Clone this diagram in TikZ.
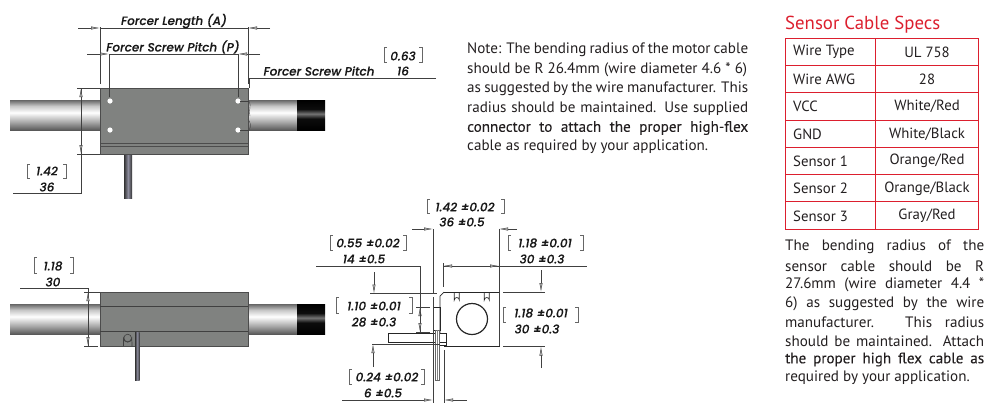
\documentclass[tikz,border=0pt]{standalone}
\usepackage{fontspec}
\usetikzlibrary{arrows.meta}
\setmainfont{PT Sans}
\newfontfamily\dimfont[ItalicFont=* Medium Italic,BoldFont=* SemiBold]{Poppins}
\definecolor{tablered}{HTML}{DC1F2E}
\definecolor{bodygray}{HTML}{808280}
\definecolor{txt}{HTML}{231F20}
\pgfdeclareverticalshading{rodshade}{100bp}{color(0bp)=(black!65);color(25bp)=(black!65);color(38bp)=(black!35);color(54bp)=(white);color(65bp)=(black!22);color(75bp)=(black!60);color(100bp)=(black!60)}
\pgfdeclareverticalshading{tipshade}{100bp}{color(0bp)=(black);color(25bp)=(black);color(44bp)=(black!95);color(52bp)=(black!55);color(60bp)=(black!95);color(75bp)=(black);color(100bp)=(black)}
\pgfdeclarehorizontalshading{cableshade}{100bp}{color(0bp)=(black!80);color(25bp)=(black!80);color(50bp)=(blue!15!black!45);color(75bp)=(black!80);color(100bp)=(black!80)}
\tikzset{
  x=1pt,y=-1pt,
  dimline/.style={draw=black!75,line width=0.55pt},
  dimarrow/.style={draw=black!75,line width=0.55pt,-{Latex[length=9pt,width=3.2pt,fill=black!25,line width=0.5pt]}},
  brack/.style={draw=black!60,line width=0.6pt},
  dimtext/.style={font=\dimfont\itshape\fontsize{12}{13}\selectfont\addfontfeature{FakeBold=0.2},text=black!90,inner sep=0pt},
  bodyedge/.style={draw=black!70,line width=0.7pt,fill=bodygray},
  partline/.style={draw=black!85,line width=0.7pt},
  note/.style={font=\fontsize{15.1}{17}\selectfont,text=txt,inner sep=0pt,anchor=west},
  notebold/.style={note,font=\fontsize{15.1}{17}\selectfont\addfontfeature{FakeBold=0.1}},
  para/.style={note},
  cell/.style={font=\fontsize{14.8}{16}\selectfont,text=txt,inner sep=0pt},
  tblline/.style={draw=tablered,line width=0.8pt},
}
\newcommand{\dimbracket}[4]{% x1,y1,x2,y2
  \draw[brack] (#1+3,#2)--(#1,#2)--(#1,#4)--(#1+3,#4);
  \draw[brack] (#3-3,#2)--(#3,#2)--(#3,#4)--(#3-3,#4);}
\newcommand{\rod}[2]{% top,bottom
  \shade[shading=rodshade] (10,#1) rectangle (100,#2);
  \shade[shading=rodshade] (248,#1) rectangle (297,#2);
  \shade[shading=tipshade] (297,#1) rectangle (325,#2);}
\begin{document}
\begin{tikzpicture}
\useasboundingbox (0,0) rectangle (1000,416);
% ---- top view
\rod{100}{130}
\shade[shading=cableshade] (124,154) rectangle (132,198);
\draw[bodyedge] (100,88) rectangle (248,154);
\draw[draw=black!70,line width=0.7pt] (100,143)--(248,143) (100,146)--(248,146);
\foreach \hx/\hy in {110/101,238/101,110/130,238/130}
  \fill[white] (\hx,\hy) circle (2.6);
% dims top view
\draw[dimline] (100,27)--(100,84) (248,27)--(248,84);
\draw[dimline] (100,28)--(248,28);
\draw[dimarrow] (78,28)--(100,28);
\draw[dimarrow] (270,28)--(248,28);
\draw[dimline] (109,54)--(109,97) (238,54)--(238,97) (109,54)--(238,54);
\draw[dimarrow] (87,54)--(109,54);
\draw[dimarrow] (260,54)--(238,54);
\draw[dimline] (436,78.5)--(249,78.5)--(249,88);
\draw[dimline] (240,101)--(249,101) (240,130)--(249,130);
\draw[draw=black!70,line width=0.4pt] (249,101) .. controls (252,106) and (248,110) .. (250,116) (248,119) .. controls (250,122) and (252,126) .. (249,130);
\draw[dimline] (77,88)--(100,88) (77,154)--(100,154) (81,88)--(81,193)--(13,193);
\draw[dimarrow] (81,108)--(81,88);
\draw[dimarrow] (81,134)--(81,154);
\node[dimtext] (lenA) at (174,21) {Forcer Length (A)};
\node[dimtext] (pitchP) at (173,47) {Forcer Screw Pitch (P)};
\node[dimtext] (pitchR) at (319,71) {Forcer Screw Pitch};
\node[dimtext] (n063) at (403,56) {0.63};
\node[dimtext] (n16) at (403,71) {16};
\dimbracket{384}{47}{422}{62}
\node[dimtext] (n142a) at (47,171) {1.42};
\node[dimtext] (n36) at (47,187) {36};
\dimbracket{27}{164}{66}{178}
% ---- side view
\rod{304}{334}
\draw[bodyedge] (100,292) rectangle (248,346);
\draw[draw=black!75,line width=0.7pt] (100,306)--(248,306) (100,331)--(248,331);
\draw[draw=black!75,line width=0.6pt] (123.5,346)--(123.5,338) arc (180:0:4.2) --(132,346);
\draw[draw=black!75,line width=0.6pt] (127.7,338) circle (3.8);
\shade[shading=cableshade] (135,332) rectangle (139.5,380);
\draw[dimline] (84,292)--(100,292) (84,346)--(98,346) (20,288.5)--(88,288.5)--(88,346);
\draw[dimarrow] (88,312)--(88,292);
\draw[dimarrow] (88,326)--(88,346);
\node[dimtext] (n118a) at (53,266) {1.18};
\node[dimtext] (n30) at (53,282) {30};
\dimbracket{34}{257}{73}{273}
% ---- end view part
\draw[partline] (444,292)--(499,292)--(499,346.5)--(444,346.5);
\draw[partline] (444,292)--(440,296)--(440,333);
\draw[partline] (433,307) rectangle (440,330);
\draw[partline] (388,333.5) rectangle (446,342);
\draw[partline] (437,333.5)--(446,333.5)--(446,345)--(439,345);
\draw[partline,line width=1.2pt] (472,319) circle (15.5);
\draw[partline] (454.3,292)--(454.3,300) arc (180:360:2.5) --(459.3,292);
\draw[partline] (484.3,292)--(484.3,300) arc (180:360:2.5) --(489.3,292);
\draw[draw=black!60,fill=white,line width=0.5pt] (435,330) rectangle (439,380);
\draw[draw=black!50,line width=0.4pt] (437,330)--(437,380);
% dims end view
\draw[dimline] (433,229)--(433,293) (433,297)--(433,403) (499,229)--(499,346);
\draw[dimarrow] (412,229)--(433,229);
\draw[dimarrow] (517,229)--(499,229);
\node[dimtext] (a1) at (465,207) {1.42 ±0.02};
\node[dimtext] (a2) at (462,222) {36 ±0.5};
\dimbracket{427}{199}{504}{213}
% 0.55
\draw[dimline] (316,266)--(420,266)--(420,332);
\draw[dimline] (416,307)--(430,307) (416,332)--(430,332);
\draw[dimarrow] (420,327)--(420,307);
\draw[dimarrow] (420,312)--(420,332);
\node[dimtext] (b1) at (368,243) {0.55 ±0.02};
\node[dimtext] (b2) at (364,259) {14 ±0.5};
\dimbracket{330}{235}{406}{250}
\node[dimtext] (c1) at (374,306) {1.10 ±0.01};
\node[dimtext] (c2) at (374,322) {28 ±0.3};
\dimbracket{336}{297}{412}{313}
% 0.55 companion arrow
\draw[dimline] (370,293.5)--(437,293.5) (372,344)--(440,344);
\draw[dimarrow] (374,272)--(374,293.5);
\draw[dimarrow] (373,367)--(373,344);
% 1.18 top
\draw[dimline] (443,266)--(587,266) (443,263)--(443,287);
\draw[dimarrow] (460,266)--(443,266);
\draw[dimarrow] (483,266)--(499,266);
\node[dimtext] (d1) at (545,243) {1.18 ±0.01};
\node[dimtext] (d2) at (542,259) {30 ±0.3};
\dimbracket{508}{235}{583}{250}
% 1.18 right
\draw[dimline] (503,292)--(545,292) (503,346.5)--(545,346.5);
\draw[dimarrow] (541,270)--(541,292);
\draw[dimarrow] (541,368)--(541,346.5);
\node[dimtext] (e1) at (541,313) {1.18 ±0.01};
\node[dimtext] (e2) at (537,329) {30 ±0.3};
\dimbracket{503}{307}{578}{322}
% 0.24
\draw[dimline] (444,350)--(444,403) (342,400)--(417,400) (450,400)--(467,400);
\draw[dimarrow] (417,400)--(433,400);
\draw[dimarrow] (460,400)--(444,400);
\node[dimtext] (f1) at (387,377) {0.24 ±0.02};
\node[dimtext] (f2) at (383,393) {6 ±0.5};
\dimbracket{349}{369}{424}{384}
% ---- note
\node[note] (l1) at (467,49.5) {\makebox[281pt][s]{Note: The bending radius of the motor cable}};
\node[note] (l2) at (467,69.5) {\makebox[280pt][s]{should be R 26.4mm (wire diameter 4.6 * 6)}};
\node[note] (l3) at (467,89) {\makebox[281pt][s]{as suggested by the wire manufacturer. This}};
\node[note] (l4) at (467,108.5) {\makebox[281pt][s]{radius should be maintained. Use supplied}};
\node[notebold] (l5) at (467,128) {\makebox[281pt][s]{connector to attach the proper high-flex}};
\node[note] (l6) at (467,147) {cable as required by your application.};
% ---- table
\node[font=\fontsize{18.8}{20}\selectfont,text=tablered,inner sep=0pt,anchor=west] (title) at (785,25) {Sensor Cable Specs};
\draw[tblline] (785.5,38) rectangle (978,229);
\draw[tblline] (875,38)--(875,229);
\foreach \ry in {65.3,92.6,120,147.2,174.5,201.8}
  \draw[tblline] (785.5,\ry)--(978,\ry);
\foreach \i/\ry/\a/\b in {1/52/Wire Type/UL 758,2/79/Wire AWG/28,3/106.5/VCC/White\slash Red,4/134/GND/White\slash Black,5/161/Sensor 1/Orange\slash Red,6/188.5/Sensor 2/Orange\slash Black,7/216/Sensor 3/Gray\slash Red}{
  \node[cell,anchor=west] (k\i) at (793,\ry) {\a};
  \node[cell] (v\i) at (927,\ry) {\b};
}
% ---- right paragraph
\node[para] (r1) at (785,247) {\makebox[199pt][s]{The bending radius of the}};
\node[para] (r2) at (785,266) {\makebox[199pt][s]{sensor cable should be R}};
\node[para] (r3) at (785,285) {\makebox[199pt][s]{27.6mm (wire diameter 4.4 *}};
\node[para] (r4) at (785,303.5) {\makebox[199pt][s]{6) as suggested by the wire}};
\node[para] (r5) at (785,322) {\makebox[199pt][s]{manufacturer. This radius}};
\node[para] (r6) at (785,341) {\makebox[199pt][s]{should be maintained. Attach}};
\node[notebold] (r7) at (785,359.5) {\makebox[199pt][s]{the proper high flex cable as}};
\node[para] (r8) at (785,378) {required by your application.};
\end{tikzpicture}
\end{document}
